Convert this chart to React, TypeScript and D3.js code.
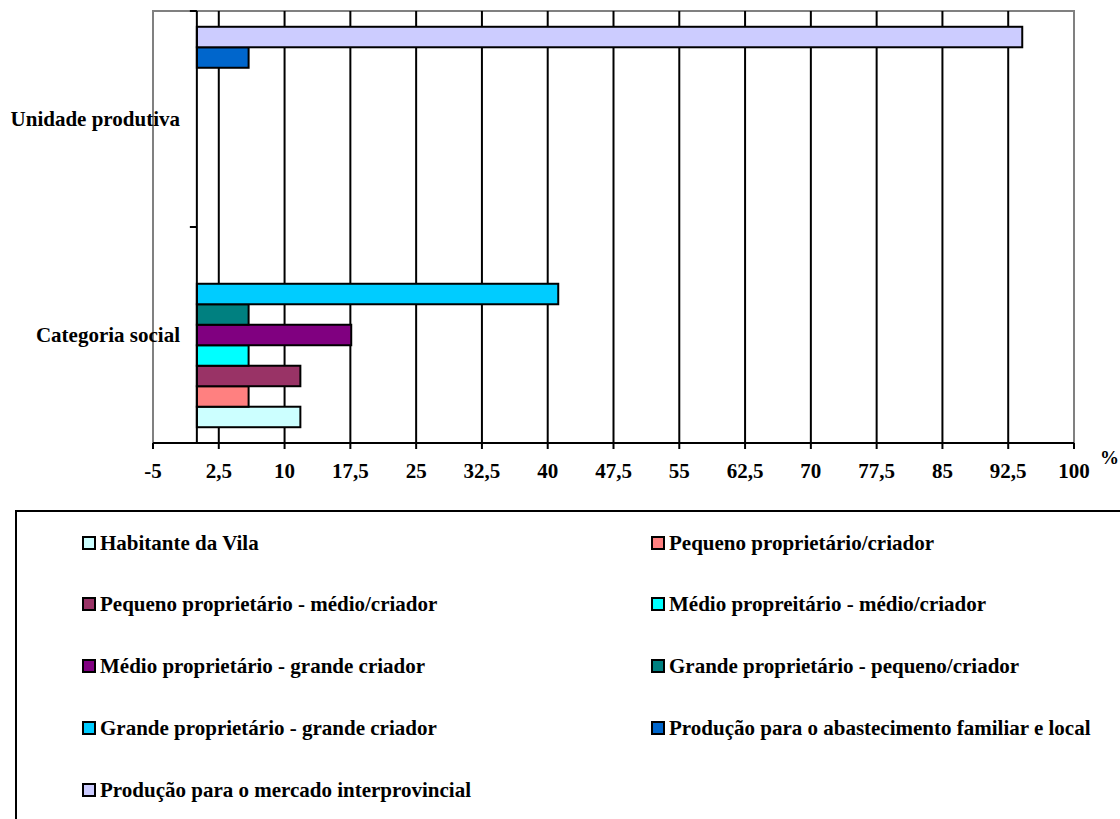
import React, { useEffect, useRef } from 'react';
import * as d3 from 'd3';

const categories = ['Unidade produtiva', 'Categoria social'];

const seriesNames = [
  'Habitante da Vila',
  'Pequeno proprietário/criador',
  'Pequeno proprietário - médio/criador',
  'Médio propreitário - médio/criador',
  'Médio proprietário - grande criador',
  'Grande proprietário - pequeno/criador',
  'Grande proprietário - grande criador',
  'Produção para o abastecimento familiar e local',
  'Produção para o mercado interprovincial',
];

const seriesColors = [
  '#CCFFFF',
  '#FF8080',
  '#993366',
  '#00FFFF',
  '#800080',
  '#008080',
  '#00CCFF',
  '#0066CC',
  '#CCCCFF',
];

// values per series, in the order of seriesNames (null = no bar)
const categoriaSocial = [11.8, 5.9, 11.8, 5.9, 17.6, 5.9, 41.2, null, null];
const unidadeProdutiva = [null, null, null, null, null, null, null, 5.9, 94.1];

const xTicks = [-5, 2.5, 10, 17.5, 25, 32.5, 40, 47.5, 55, 62.5, 70, 77.5, 85, 92.5, 100];

const W = 1120;
const H = 819;
const FONT = '"Liberation Serif", "Times New Roman", serif';

const App: React.FC = () => {
  const svgRef = useRef<SVGSVGElement>(null);

  useEffect(() => {
    const svg = d3.select(svgRef.current);
    if (!svgRef.current) return;
    svg.selectAll('*').remove();

    const left = 153;
    const right = 1074;
    const top = 11;
    const bottom = 443;

    const x = d3.scaleLinear().domain([-5, 100]).range([left, right]);
    const y = d3.scaleBand<string>().domain(categories).range([top, bottom]);
    const inner = d3
      .scaleBand<string>()
      .domain([...seriesNames].reverse())
      .range([0, y.bandwidth()])
      .paddingInner(0)
      .paddingOuter(0.77);

    const valuesByCat: Record<string, (number | null)[]> = {
      'Categoria social': categoriaSocial,
      'Unidade produtiva': unidadeProdutiva,
    };

    // plot frame
    svg
      .append('rect')
      .attr('x', left)
      .attr('y', top)
      .attr('width', right - left)
      .attr('height', bottom - top)
      .attr('fill', 'white')
      .attr('stroke', '#808080')
      .attr('stroke-width', 2);

    // vertical gridlines
    svg
      .append('g')
      .selectAll('line')
      .data(xTicks.filter((t) => t !== -5 && t !== 100))
      .join('line')
      .attr('x1', (d) => x(d))
      .attr('x2', (d) => x(d))
      .attr('y1', top)
      .attr('y2', bottom)
      .attr('stroke', 'black')
      .attr('stroke-width', 2);

    // bars
    const bars = svg.append('g');
    categories.forEach((cat) => {
      const vals = valuesByCat[cat];
      vals.forEach((v, i) => {
        if (v == null) return;
        const name = seriesNames[i];
        bars
          .append('rect')
          .attr('x', x(0))
          .attr('y', (y(cat) as number) + (inner(name) as number))
          .attr('width', x(v) - x(0))
          .attr('height', inner.bandwidth())
          .attr('fill', seriesColors[i])
          .attr('stroke', 'black')
          .attr('stroke-width', 2);
      });
    });

    // category axis at zero
    svg
      .append('line')
      .attr('x1', x(0))
      .attr('x2', x(0))
      .attr('y1', top)
      .attr('y2', bottom)
      .attr('stroke', 'black')
      .attr('stroke-width', 2);
    svg
      .append('g')
      .selectAll('line')
      .data([top, (y(categories[1]) as number), bottom])
      .join('line')
      .attr('x1', x(0) - 7)
      .attr('x2', x(0))
      .attr('y1', (d) => d)
      .attr('y2', (d) => d)
      .attr('stroke', 'black')
      .attr('stroke-width', 2);

    // category labels
    svg
      .append('g')
      .selectAll('text')
      .data(categories)
      .join('text')
      .attr('x', 180)
      .attr('y', (d) => (y(d) as number) + y.bandwidth() / 2 + 7)
      .attr('text-anchor', 'end')
      .attr('font-family', FONT)
      .attr('font-weight', 'bold')
      .attr('font-size', 21)
      .text((d) => d);

    // value axis
    svg
      .append('line')
      .attr('x1', left)
      .attr('x2', right)
      .attr('y1', bottom)
      .attr('y2', bottom)
      .attr('stroke', 'black')
      .attr('stroke-width', 2);
    svg
      .append('g')
      .selectAll('line')
      .data(xTicks)
      .join('line')
      .attr('x1', (d) => x(d))
      .attr('x2', (d) => x(d))
      .attr('y1', bottom)
      .attr('y2', bottom + 6)
      .attr('stroke', 'black')
      .attr('stroke-width', 2);
    svg
      .append('g')
      .selectAll('text')
      .data(xTicks)
      .join('text')
      .attr('x', (d) => x(d))
      .attr('y', 478)
      .attr('text-anchor', 'middle')
      .attr('font-family', FONT)
      .attr('font-weight', 'bold')
      .attr('font-size', 21)
      .text((d) => String(d).replace('.', ','));
    svg
      .append('text')
      .attr('x', 1100)
      .attr('y', 464)
      .attr('font-family', FONT)
      .attr('font-weight', 'bold')
      .attr('font-size', 19)
      .text('%');

    // legend box
    svg
      .append('path')
      .attr('d', `M16,${H + 5} L16,511 L${W + 5},511`)
      .attr('fill', 'none')
      .attr('stroke', 'black')
      .attr('stroke-width', 2);

    const legend = svg.append('g');
    const rowY = [543, 604, 666, 728, 790];
    const colX = [82, 651];
    seriesNames.forEach((name, i) => {
      const cx = colX[i % 2];
      const cy = rowY[Math.floor(i / 2)];
      legend
        .append('rect')
        .attr('x', cx + 1)
        .attr('y', cy - 6)
        .attr('width', 12)
        .attr('height', 12)
        .attr('fill', seriesColors[i])
        .attr('stroke', 'black')
        .attr('stroke-width', 2);
      legend
        .append('text')
        .attr('x', cx + 18)
        .attr('y', cy + 7)
        .attr('font-family', FONT)
        .attr('font-weight', 'bold')
        .attr('font-size', 21)
        .text(name);
    });
  }, []);

  return (
    <svg
      ref={svgRef}
      width={W}
      height={H}
      style={{ position: 'absolute', left: 0, top: 0, background: 'white' }}
    />
  );
};

export default App;
